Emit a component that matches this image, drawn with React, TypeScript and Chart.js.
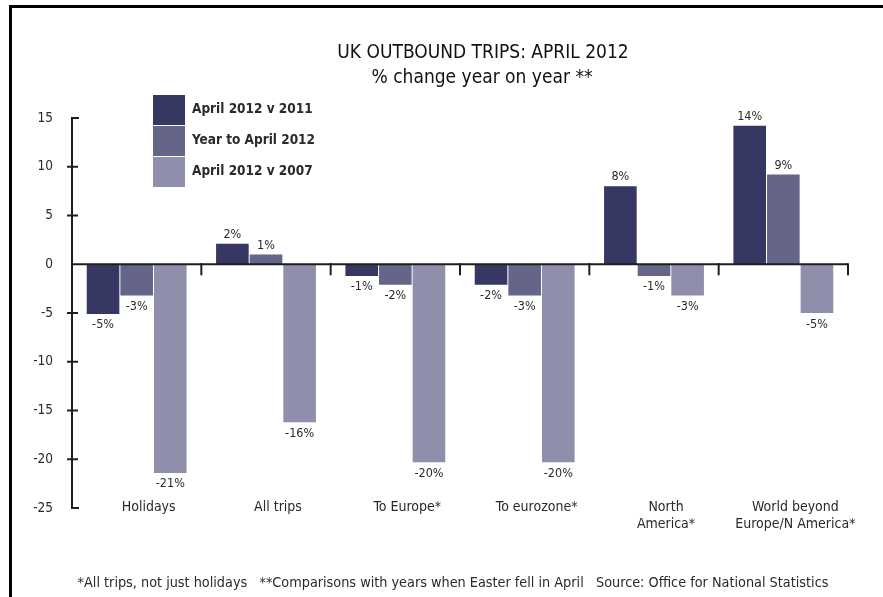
import React, { useEffect, useRef } from "react";
import { Chart, registerables } from "chart.js";

Chart.register(...registerables);

const categories: (string | string[])[] = [
  "Holidays",
  "All trips",
  "To Europe*",
  "To eurozone*",
  ["North", "America*"],
  ["World beyond", "Europe/N America*"],
];
const seriesNames = ["April 2012 v 2011", "Year to April 2012", "April 2012 v 2007"];
const april2012v2011 = [-5.1, 2.1, -1.2, -2.1, 8.0, 14.2];
const yearToApril2012 = [-3.2, 1.0, -2.1, -3.2, -1.2, 9.2];
const april2012v2007 = [-21.4, -16.2, -20.3, -20.3, -3.2, -5.0];
const yTicks = [15, 10, 5, 0, -5, -10, -15, -20, -25];
const titleLines = ["UK OUTBOUND TRIPS: APRIL 2012", "% change year on year **"];
const footnote =
  "*All trips, not just holidays   **Comparisons with years when Easter fell in April   Source: Office for National Statistics";

const colors = ["#373763", "#656589", "#8f8fac"];
const FONT = "'Liberation Sans Narrow', 'DejaVu Sans Condensed', 'Noto Sans', sans-serif";
const TEXT = "#2a2a2a";

const decorPlugin = {
  id: "decor",
  afterLayout(chart: any) {
    // pull the category labels up so they sit level with the bottom of the value axis
    const xs = chart.scales.x;
    xs.top -= 9;
  },
  afterDatasetsDraw(chart: any) {
    const ctx = chart.ctx as CanvasRenderingContext2D;
    const area = chart.chartArea;
    const ys = chart.scales.y;
    const xs = chart.scales.x;
    ctx.save();
    ctx.strokeStyle = "#1e1e1e";
    ctx.lineWidth = 2;
    // y axis line
    const yTop = ys.getPixelForValue(yTicks[0]);
    const yBot = ys.getPixelForValue(yTicks[yTicks.length - 1]);
    ctx.beginPath();
    ctx.moveTo(area.left, yTop);
    ctx.lineTo(area.left, yBot);
    ctx.stroke();
    // y ticks
    yTicks.forEach((v, i) => {
      const py = ys.getPixelForValue(v);
      ctx.beginPath();
      if (i === 0 || i === yTicks.length - 1) {
        ctx.moveTo(area.left - 1, py);
        ctx.lineTo(area.left + 7, py);
      } else if (v !== 0) {
        ctx.moveTo(area.left - 5, py);
        ctx.lineTo(area.left + 6, py);
      }
      ctx.stroke();
    });
    // zero line
    const y0 = ys.getPixelForValue(0);
    ctx.beginPath();
    ctx.moveTo(area.left, y0);
    ctx.lineTo(area.right, y0);
    ctx.stroke();
    // boundary ticks
    for (let i = 1; i <= categories.length; i++) {
      const bx = xs.getPixelForValue(i - 0.5);
      ctx.beginPath();
      ctx.moveTo(bx, y0 - 1);
      ctx.lineTo(bx, y0 + 11);
      ctx.stroke();
    }
    // data labels
    ctx.fillStyle = TEXT;
    ctx.font = `12.5px ${FONT}`;
    ctx.textAlign = "center";
    chart.data.datasets.forEach((ds: any, di: number) => {
      const meta = chart.getDatasetMeta(di);
      meta.data.forEach((el: any, i: number) => {
        const v = ds.data[i];
        const txt = `${Math.round(v)}%`;
        if (v >= 0) {
          ctx.textBaseline = "bottom";
          ctx.fillText(txt, el.x, el.y - 3);
        } else {
          ctx.textBaseline = "top";
          ctx.fillText(txt, el.x, el.y + 5);
        }
      });
    });
    // title
    ctx.fillStyle = "#111";
    ctx.textBaseline = "middle";
    ctx.font = `19px ${FONT}`;
    ctx.fillText(titleLines[0], 483, 53);
    ctx.fillText(titleLines[1], 482, 78);
    // legend
    ctx.textAlign = "left";
    ctx.font = `bold 13.5px ${FONT}`;
    seriesNames.forEach((name, i) => {
      const top = 95 + i * 31;
      ctx.fillStyle = colors[i];
      ctx.fillRect(153, top, 32, 30);
      ctx.fillStyle = TEXT;
      ctx.fillText(name, 192, top + 14);
    });
    // footnote
    ctx.textAlign = "center";
    ctx.font = `14.3px ${FONT}`;
    ctx.fillText(footnote, 453, 583);
    ctx.restore();
  },
};

export default function App() {
  const ref = useRef<HTMLCanvasElement>(null);
  useEffect(() => {
    if (!ref.current) return;
    const chart = new Chart(ref.current, {
      type: "bar",
      data: {
        labels: categories as any,
        datasets: [april2012v2011, yearToApril2012, april2012v2007].map((d, i) => ({
          label: seriesNames[i],
          data: d,
          backgroundColor: colors[i],
          borderWidth: 0,
          barPercentage: 0.97,
          categoryPercentage: 0.78,
        })),
      },
      options: {
        animation: false,
        responsive: false,
        events: [],
        layout: { padding: { top: 118, left: 0, right: 35, bottom: 59 } },
        plugins: {
          legend: { display: false },
          title: { display: false },
          tooltip: { enabled: false },
        },
        scales: {
          x: {
            grid: { display: false, drawTicks: false },
            border: { display: false },
            ticks: {
              color: TEXT,
              font: { family: FONT, size: 14 },
              padding: 0,
              labelOffset: 12,
              maxRotation: 0,
              autoSkip: false,
            },
            afterFit(scale: any) {
              scale.height = 30;
            },
          },
          y: {
            min: -25,
            max: 15,
            grid: { display: false, drawTicks: false },
            border: { display: false },
            ticks: {
              stepSize: 5,
              color: TEXT,
              font: { family: FONT, size: 13.5 },
              padding: 19,
            },
            afterFit(scale: any) {
              scale.width = 72;
            },
          },
        },
      },
      plugins: [decorPlugin],
    });
    return () => chart.destroy();
  }, []);
  return (
    <div style={{ position: "absolute", left: 0, top: 0, width: 883, height: 597, overflow: "hidden", background: "#fff" }}>
      <canvas ref={ref} width={883} height={597} style={{ display: "block" }} />
      <div
        style={{
          position: "absolute",
          left: 9,
          top: 5,
          width: 900,
          height: 700,
          borderTop: "3px solid #000",
          borderLeft: "3px solid #000",
          pointerEvents: "none",
        }}
      />
    </div>
  );
}
